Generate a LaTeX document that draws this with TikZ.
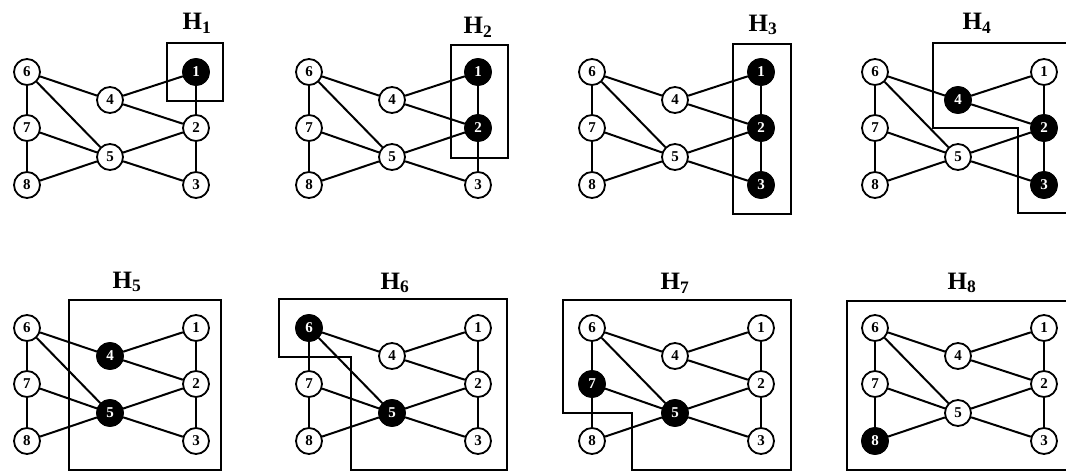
\documentclass[tikz,border=0pt]{standalone}
\usepackage{fontspec}
\setmainfont{Liberation Serif}
\begin{document}
\begin{tikzpicture}[x=1pt,y=-1pt,
  vtx/.style={circle,draw,line width=1.8pt,fill=white,minimum size=26pt,inner sep=0pt,font=\bfseries\fontsize{15}{15}\selectfont},
  sel/.style={vtx,fill=black,text=white},
  edge/.style={line width=2pt},
  hbox/.style={line width=2pt},
  title/.style={font=\bfseries\fontsize{25}{25}\selectfont}]
\useasboundingbox (0,0) rectangle (1066,472);
% eight panels, same graph, marked vertices differ
\foreach \p/\ox/\oy/\lx/\ly/\blk in {1/27/72/197/23/{1},2/309/72/478/27/{1,2},3/592/72/763/25/{1,2,3},4/875/72/977/23/{2,3,4},
    5/27/328/127/282/{4,5},6/309/328/395/283/{5,6},7/592/328/675/283/{5,7},8/875/328/962/283/{8}}{
  \node[title] (t\p) at (\lx,\ly) {H\textsubscript{\p}};
  \foreach \v/\vx/\vy in {1/169/0,2/169/56,3/169/113,4/83/28,5/83/85,6/0/0,7/0/56,8/0/113}
    \node[vtx] (p\p-\v) at (\ox+\vx,\oy+\vy) {\v};
  \foreach \a/\b in {6/4,6/5,6/7,7/5,7/8,8/5,4/1,4/2,5/2,5/3,1/2,2/3}
    \draw[edge] (p\p-\a) -- (p\p-\b);
  \foreach \v in \blk
    \node[sel] (p\p-\v-on) at (p\p-\v) {\v};
}
% the sets H_i
\draw[hbox] (167,43) rectangle (223,101);
\draw[hbox] (451,45) rectangle (508,158);
\draw[hbox] (733,44) rectangle (791,214);
\draw[hbox] (1068,43) -- (933,43) -- (933,128) -- (1018,128) -- (1018,213) -- (1068,213);
\draw[hbox] (69,300) rectangle (221,470);
\draw[hbox] (279,299) -- (507,299) -- (507,470) -- (351,470) -- (351,357) -- (279,357) -- cycle;
\draw[hbox] (563,300) -- (791,300) -- (791,470) -- (632,470) -- (632,413) -- (563,413) -- cycle;
\draw[hbox] (1068,301) -- (847,301) -- (847,470) -- (1068,470);
\end{tikzpicture}
\end{document}
